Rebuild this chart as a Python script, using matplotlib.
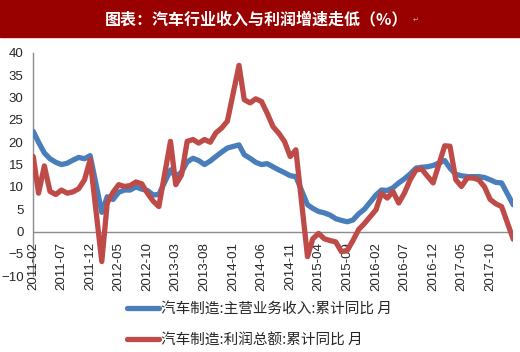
import numpy as np
import pandas as pd
import matplotlib
matplotlib.use("Agg")
import matplotlib.pyplot as plt
import matplotlib.dates as mdates

# monthly cumulative YoY (%), Jan merged into Feb (no January points)
months = pd.date_range("2011-02-01", "2018-02-01", freq="MS")
months = months[(months.month != 1)]

revenue = [22.4, 20.0, 17.6, 16.3, 15.5, 15.0, 15.3, 16.0, 16.6, 16.3, 17.0,
           4.3, 7.8, 7.2, 8.8, 9.3, 9.3, 10.0, 9.5, 9.2, 8.2, 8.3,
           13.8, 12.3, 13.3, 15.6, 16.4, 15.9, 15.0, 15.8, 16.8, 17.8, 18.7,
           19.4, 17.2, 16.4, 15.5, 15.0, 15.2, 14.5, 13.8, 13.2, 12.5, 12.3,
           6.0, 5.2, 4.5, 4.2, 3.7, 2.9, 2.5, 2.2, 2.6, 4.0, 5.0,
           8.2, 9.3, 9.2, 9.8, 10.9, 11.8, 12.9, 14.2, 14.4, 14.5, 14.8,
           15.9, 14.2, 12.8, 12.5, 12.3, 12.3, 12.3, 12.1, 11.6, 11.0, 10.9,
           6.0]
profit = [16.8, 8.6, 14.7, 9.0, 8.3, 9.3, 8.6, 8.9, 9.6, 11.6, 16.1,
          -6.7, 6.4, 8.8, 10.5, 10.1, 10.3, 11.1, 10.7, 8.6, 6.8, 5.6,
          20.2, 10.5, 12.7, 20.2, 20.6, 19.8, 20.6, 20.0, 22.1, 23.2, 24.7,
          37.2, 29.5, 28.8, 29.7, 29.1, 26.5, 23.5, 22.0, 20.2, 16.8, 18.3,
          -5.6, -1.6, -0.4, -1.6, -2.0, -2.3, -4.5, -4.2, -2.0, 0.5, 1.8,
          4.9, 8.6, 7.5, 9.0, 6.4, 8.6, 11.6, 13.8, 14.0, 12.4, 10.9,
          19.2, 19.1, 11.6, 10.1, 12.0, 12.0, 11.6, 10.0, 7.2, 6.2, 5.6,
          -1.7]
tick_dates = pd.date_range("2011-02-01", "2017-10-01", freq="5MS")
yticks = [-10, -5, 0, 5, 10, 15, 20, 25, 30, 35, 40]

title = "图表：汽车行业收入与利润增速走低（%）"
lab_rev = "汽车制造:主营业务收入:累计同比 月"
lab_pro = "汽车制造:利润总额:累计同比 月"

plt.rcParams["font.family"] = ["Liberation Sans", "DejaVu Sans"]
cjk = ["Noto Sans CJK SC", "DejaVu Sans"]
BLUE, RED, GREY = "#4A7EBB", "#BE4B48", "#8C8C8C"

fig = plt.figure(figsize=(5.2, 3.52), dpi=100)
ax = fig.add_axes([0.064, 0.215, 0.923, 0.635])

# title banner
fig.patches.append(plt.Rectangle((0, 1 - 37 / 352), 1, 37 / 352, transform=fig.transFigure,
                                 color="#990000", zorder=0))
fig.text(0.494, 1 - 19 / 352, title, color="white", fontsize=11.5, fontweight="bold",
         family=cjk, ha="center", va="center")
fig.text(0.80, 1 - 20 / 352, "↵", color="#d9a0a0", fontsize=5, family=["DejaVu Sans"],
         ha="center", va="center")

ax.plot(months, revenue, color=BLUE, lw=3.8, solid_joinstyle="round",
        solid_capstyle="round", label=lab_rev, zorder=3)
ax.plot(months, profit, color=RED, lw=3.8, solid_joinstyle="round",
        solid_capstyle="round", label=lab_pro, zorder=4)

ax.set_xlim(months[0], months[-1])
ax.set_ylim(-10, 40)
ax.set_yticks(yticks)
ax.tick_params(axis="y", length=0, pad=7, labelsize=9.5, labelcolor="#262626")
ax.set_xticks([])
for s in ("top", "right", "bottom"):
    ax.spines[s].set_visible(False)
ax.spines["left"].set_color(GREY)
ax.spines["left"].set_linewidth(1.0)
ax.axhline(0, color=GREY, lw=1.0, zorder=2)

for d in tick_dates:
    ax.text(mdates.date2num(d), -2.4, d.strftime("%Y-%m"), rotation=90, ha="center",
            va="top", fontsize=9.5, color="#262626", clip_on=False)

leg = ax.legend(loc="upper left", bbox_to_anchor=(127 / 520, 1 - 302 / 352),
                bbox_transform=fig.transFigure, frameon=False, prop={"family": cjk, "size": 10.5},
                handlelength=2.2, handletextpad=0.15, labelspacing=1.2, borderpad=0,
                borderaxespad=0)
for t in leg.get_texts():
    t.set_color("#262626")

fig.savefig("out.png", dpi=100)
